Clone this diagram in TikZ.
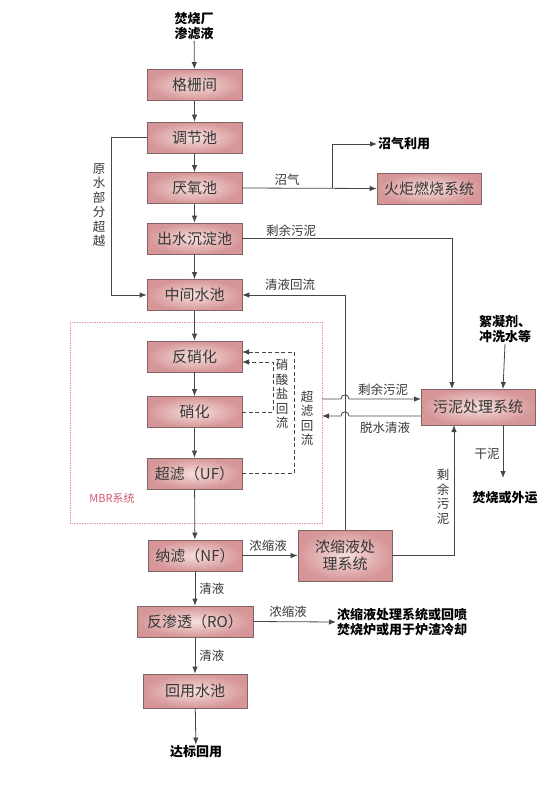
\documentclass[tikz,border=0pt]{standalone}
\usepackage{fontspec}
\setmainfont{Noto Sans CJK SC}
\usetikzlibrary{arrows.meta}
\definecolor{boxin}{RGB}{246,222,220}
\definecolor{boxout}{RGB}{214,150,152}
\definecolor{boxline}{RGB}{130,100,100}
\definecolor{flow}{RGB}{70,70,70}
\definecolor{txt}{RGB}{55,55,55}
\definecolor{mbr}{RGB}{232,150,160}
\definecolor{mbrtxt}{RGB}{210,90,110}
\begin{document}
\begin{tikzpicture}[x=1pt,y=-1pt,
  proc/.style={draw=boxline,line width=0.8pt,inner color=boxin,outer color=boxout,
    minimum height=31pt,inner sep=0pt,text=txt,font=\fontsize{15}{17}\selectfont},
  bl/.style={font=\fontsize{13}{15}\selectfont\bfseries,text=black,align=center,inner sep=1pt},
  lbl/.style={font=\fontsize{12.5}{14}\selectfont,text=txt,inner sep=1pt},
  vlbl/.style={font=\fontsize{12.5}{14.5}\selectfont,text=txt,inner sep=1pt,align=center},
  fl/.style={draw=flow,line width=0.8pt},
  arr/.style={fl,-{Latex[length=7pt,width=5.5pt]}},
  darr/.style={fl,dashed,dash pattern=on 4pt off 2.5pt,-{Latex[length=7pt,width=5.5pt]}},
  dl/.style={fl,dashed,dash pattern=on 4pt off 2.5pt}]
\useasboundingbox (0,0) rectangle (554,793);
% MBR box
\draw[mbr,line width=0.6pt,dash pattern=on 1.5pt off 1pt] (70,322) rectangle (322,523);
\node[font=\fontsize{11}{13}\selectfont,text=mbrtxt] (mbrl) at (112,498) {MBR系统};
% process boxes
\node[proc,minimum width=95pt] (gs) at (194.5,85) {格栅间};
\node[proc,minimum width=95pt] (tj) at (194.5,137.5) {调节池};
\node[proc,minimum width=95pt] (yy) at (194.5,188) {厌氧池};
\node[proc,minimum width=95pt] (cs) at (194.5,238.5) {出水沉淀池};
\node[proc,minimum width=95pt] (zj) at (194.5,295) {中间水池};
\node[proc,minimum width=95pt] (fx) at (194.5,356.5) {反硝化};
\node[proc,minimum width=95pt] (xh) at (194.5,412) {硝化};
\node[proc,minimum width=95pt] (uf) at (194.5,473.5) {超滤（UF）};
\node[proc,minimum width=94pt] (nf) at (195,555.5) {纳滤（NF）};
\node[proc,minimum width=116pt] (ro) at (195,621.5) {反渗透（RO）};
\node[proc,minimum width=104pt,minimum height=34pt] (hy) at (195,691) {回用水池};
\node[proc,minimum width=94pt,minimum height=51pt,align=center] (nc) at (345,555.5) {浓缩液处\\理系统};
\node[proc,minimum width=104pt] (hj) at (429,188.5) {火炬燃烧系统};
\node[proc,minimum width=114pt,minimum height=36pt] (wn) at (478,407) {污泥处理系统};
% plain texts
\node[bl] (src) at (194,26) {焚烧厂\\渗滤液};
\node[bl] (dst) at (196,752) {达标回用};
\node[bl,anchor=west] (zqly) at (377,144) {沼气利用};
\node[bl] (xnj) at (505,329) {絮凝剂、\\冲洗水等};
\node[bl] (fs) at (505,498) {焚烧或外运};
\node[bl,anchor=west,align=left] (ncout) at (336,622) {浓缩液处理系统或回喷\\焚烧炉或用于炉渣冷却};
% main column
\draw[arr] (src) -- (gs);
\draw[arr] (gs) -- (tj);
\draw[arr] (tj) -- (yy);
\draw[arr] (yy) -- (cs);
\draw[arr] (cs) -- (zj);
\draw[arr] (zj) -- (fx);
\draw[arr] (fx) -- (xh);
\draw[arr] (xh) -- (uf);
\draw[arr] (uf) -- (nf);
\draw[arr] (nf) -- node[lbl,right=3pt] {清液} (ro);
\draw[arr] (ro) -- node[lbl,right=3pt] {清液} (hy);
\draw[arr] (hy) -- (dst);
% bypass
\coordinate (bp1) at (111,137.5);
\coordinate (bp2) at (111,295);
\draw[arr] (tj.west) -- (bp1) -- (bp2) -- (zj.west);
\node[vlbl] (bpl) at (99,205) {原\\水\\部\\分\\超\\越};
% biogas
\coordinate (bg) at (332,188);
\draw[arr] (yy.east) -- (hj.west);
\node[lbl] (zq) at (287,180) {沼气};
\draw[arr] (bg) -- (332,144) -- (zqly.west);
% excess sludge from settling tank
\draw[arr] (cs.east) -- (452,238.5) -- (452,389);
\node[lbl] (sl1) at (291,231) {剩余污泥};
% clear liquid return
\draw[arr] (nc.north) -- (345,295) -- (zj.east);
\node[lbl] (qlhl) at (290,285) {清液回流};
% MBR <-> sludge
\draw[arr] (322,399) -- (341,399) .. controls (341,393.5) and (349,393.5) .. (349,399) -- (421,399);
\node[lbl] (sl2) at (383,390) {剩余污泥};
\draw[arr] (421,416) -- (349,416) .. controls (349,410.5) and (341,410.5) .. (341,416) -- (322,416);
\node[lbl] (tsqy) at (385,428) {脱水清液};
% flocculant
\draw[arr] (xnj.south) -- (503,389);
% dry sludge
\draw[arr] (503,425) -- (503,478);
\node[lbl] (gn) at (487,454) {干泥};
% concentrate to sludge
\draw[arr] (nc.east) -- (454,555.5) -- (454,425);
\node[vlbl] (sl3) at (443,497) {剩\\余\\污\\泥};
% nf -> nc
\draw[arr] (nf.east) -- (nc.west);
\node[lbl] (nyl1) at (268,546) {浓缩液};
% ro -> out
\draw[arr] (ro.east) -- (ncout.west);
\node[lbl] (nyl2) at (288,612) {浓缩液};
% dashed recirculation
\draw[darr] (xh.east) -- (273,412) -- (273,362) -- (242,362);
\draw[darr] (uf.east) -- (294,473.5) -- (294,352) -- (242,352);
\node[vlbl] (xsy) at (282,394) {硝\\酸\\盐\\回\\流};
\node[vlbl] (cflh) at (307,418) {超\\滤\\回\\流};
\end{tikzpicture}
\end{document}
